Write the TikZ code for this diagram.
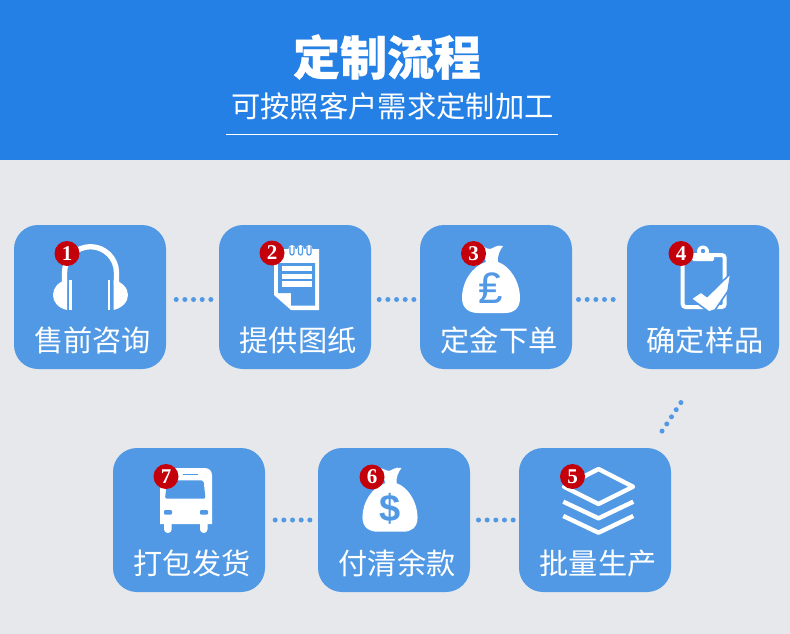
\documentclass[tikz,border=0pt]{standalone}
\usepackage{fontspec}
\setmainfont{Noto Sans CJK SC}
\newfontfamily\titlefont[BoldFeatures={FakeBold=0.6}]{Noto Sans CJK SC}
\newfontfamily\badgefont{Liberation Serif}
\newfontfamily\moneyfont{Liberation Sans}
\usetikzlibrary{positioning}
\definecolor{headblue}{RGB}{36,128,228}
\definecolor{pagegrey}{RGB}{230,232,235}
\definecolor{cardblue}{RGB}{82,153,229}
\definecolor{badgered}{RGB}{196,0,10}
\tikzset{
    moneybag/.pic={
        \fill[white] (-5,-17) .. controls (-19,-13) and (-29,3) .. (-29,19)
            .. controls (-29,30) and (-21,34) .. (-13,34) -- (14,34)
            .. controls (22,34) and (29,30) .. (29,19)
            .. controls (29,3) and (19,-13) .. (7,-17)
            .. controls (6,-23) and (9,-29) .. (12,-33)
            .. controls (6,-35) and (1,-30) .. (-1,-30)
            .. controls (-4,-30) and (-8,-33) .. (-11,-33)
            .. controls (-9,-27) and (-6,-22) .. (-5,-17) -- cycle;
    }
}

\begin{document}
\begin{tikzpicture}[
    x=1pt, y=-1pt,
    card/.style={fill=cardblue, rounded corners=24pt, minimum width=152pt,
        minimum height=144pt, inner sep=0pt},
    steplabel/.style={text=white, inner sep=0pt, font=\fontsize{29.2}{29.2}\selectfont},
    badge/.style={circle, fill=badgered, text=white, minimum size=25pt, inner sep=0pt,
        font=\badgefont\bfseries\fontsize{21}{21}\selectfont},
    dots/.style={draw=cardblue, line width=5pt, line cap=round,
        dash pattern=on 0pt off 8.67pt},
    icon/.style={fill=white},
    iconcut/.style={draw=cardblue, line cap=round},
    stackline/.style={draw=white, line width=4.4pt, line join=round}
]
\useasboundingbox (0,0) rectangle (790,634);

% Page and header band
\fill[pagegrey] (0,0) rectangle (790,634);
\fill[headblue] (0,0) rectangle (790,160);
\node[text=white, inner sep=0pt, font=\titlefont\bfseries\fontsize{47}{47}\selectfont] (title) at (387,57) {定制流程};
\node[text=white, inner sep=0pt, font=\fontsize{29.3}{29.3}\selectfont] (subtitle) at (392.5,106.5) {可按照客户需求定制加工};
\draw[white, line width=0.9pt] (226,134) -- (558,134);

% Seven step cards
\node[card] (s1) at (90,297) {};
\node[card] (s2) at (295,297) {};
\node[card] (s3) at (496,297) {};
\node[card] (s4) at (703,297) {};
\node[card] (s5) at (595,520) {};
\node[card] (s6) at (394,520) {};
\node[card] (s7) at (189,520) {};

% Step names
\node[steplabel] (l1) at (92.5,340.7) {售前咨询};
\node[steplabel] (l2) at (298,340.7) {提供图纸};
\node[steplabel] (l3) at (499,340.7) {定金下单};
\node[steplabel] (l4) at (705,340.7) {确定样品};
\node[steplabel] (l5) at (598,563.7) {批量生产};
\node[steplabel] (l6) at (397,563.7) {付清余款};
\node[steplabel] (l7) at (192,563.7) {打包发货};

% Dotted links between the cards
\draw[dots, shorten <=10pt, shorten >=6pt] ([yshift=-2.5pt]s1.east) -- ([yshift=-2.5pt]s2.west);
\draw[dots, shorten <=8pt, shorten >=4pt] ([yshift=-2.5pt]s2.east) -- ([yshift=-2.5pt]s3.west);
\draw[dots, shorten <=6.3pt, shorten >=10pt] ([yshift=-2.5pt]s3.east) -- ([yshift=-2.5pt]s4.west);
\draw[dots, dash pattern=on 0pt off 8.55pt, shorten <=40pt, shorten >=19pt] (s4.south) -- ([xshift=56pt]s5.north);
\draw[dots, shorten >=5pt, shorten <=8.3pt] (s6.east) -- (s5.west);
\draw[dots, shorten <=10pt, shorten >=7pt] (s7.east) -- (s6.west);

% Headphones
\draw[white, line width=5.3pt] (64.5,285) -- (64.5,272.7) arc (180:360:26) -- (116.5,285);
\fill[icon] (67,279.5) .. controls (58,282) and (53,288) .. (53,295)
    .. controls (53,302) and (58,308) .. (67,310) -- cycle;
\fill[icon] (113.5,279.5) .. controls (122,282) and (128,288) .. (128,295)
    .. controls (128,302) and (122,308) .. (113.5,310) -- cycle;
\fill[icon] (69,279.5) rectangle (71.7,310);
\fill[icon] (107.7,279.5) rectangle (110.3,310);

% Notepad
\fill[icon] (274,249) -- (319,249) -- (319,310) -- (291,310) -- (274,295) -- cycle;
\fill[cardblue] (278,263) -- (315,263) -- (315,305.7) -- (291,305.7) -- (291,293) -- (278,293) -- cycle;
\fill[icon] (281.7,266.3) rectangle (312.3,271.3);
\fill[icon] (281.7,273.7) rectangle (312.3,278.7);
\fill[icon] (281.7,281.3) rectangle (312.3,287);
\foreach \ringx in {292,300.5,309}{
    \fill[icon] (\ringx,248.5) circle (3.4pt);
    \draw[iconcut, line width=1.2pt] (\ringx-2,247) -- (\ringx-2,253) arc (180:0:2) -- (\ringx+2,247);
}

% Money bags
\pic at (491,279) {moneybag};
\pic[scale=0.95] at (390,499.4) {moneybag};
\node[text=cardblue, inner sep=0pt, font=\moneyfont\fontsize{44}{44}\selectfont] (pound) at (490.7,288) {₤};
\node[text=cardblue, inner sep=0pt, font=\moneyfont\bfseries\fontsize{38}{38}\selectfont] (dollar) at (390,508.5) {\$};

% Clipboard with tick
\draw[white, line width=4pt, rounded corners=3pt] (682.7,255) rectangle (724.7,307);
\fill[icon, rounded corners=1.5pt] (692,253) rectangle (714,261);
\fill[icon] (703,251.5) circle (6pt);
\fill[cardblue] (703,251) circle (2.2pt);
\filldraw[icon, draw=cardblue, line width=1.6pt, line join=round] (691,298.7) -- (701,292) -- (707,296.5) -- (731,273)
    -- (728,291) -- (715,310) -- (709,312) -- cycle;

% Stacked layers
\draw[stackline] (564,486.7) -- (598.5,469) -- (633,486.7) -- (598.5,504) -- cycle;
\draw[stackline] (563.3,501.7) -- (598.5,518.3) -- (633.3,501.7);
\draw[stackline] (563.3,516) -- (598.5,532.7) -- (633.3,516);

% Bus
\fill[icon] (160,524) [rounded corners=7pt] -- (160,468) -- (212,468) [sharp corners] -- (212,524) -- cycle;
\fill[icon, rounded corners=3.7pt] (164,518) rectangle (171.7,533);
\fill[icon, rounded corners=3.7pt] (200,518) rectangle (207.5,533);
\fill[cardblue, rounded corners=2pt] (167,480.3) -- (203.5,480.3) -- (205.5,498.7) -- (165,498.7) -- cycle;
\draw[cardblue, line width=1.5pt] (183,474.7) -- (198,474.7);
\fill[cardblue, rounded corners=1pt] (164,510) rectangle (172,514.5);
\fill[cardblue, rounded corners=1pt] (200,510) rectangle (208,514.5);

% Numbered badges
\node[badge] (b1) at (67,253.5) {1};
\node[badge] (b2) at (272,253) {2};
\node[badge] (b3) at (473.5,253.5) {3};
\node[badge] (b4) at (681,253.5) {4};
\node[badge] (b5) at (572.5,476.5) {5};
\node[badge] (b6) at (372,477) {6};
\node[badge] (b7) at (166,476.5) {7};

\end{tikzpicture}
\end{document}
